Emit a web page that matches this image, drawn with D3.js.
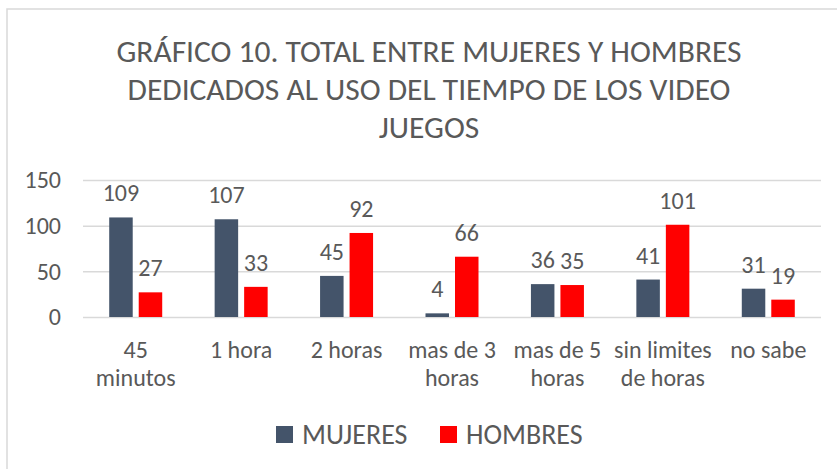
<!DOCTYPE html>
<html>
<head>
<meta charset="utf-8">
<script src="https://cdn.jsdelivr.net/npm/d3@7"></script>
<style>
  body { margin: 0; background: #fff; }
  text { font-family: Carlito, Calibri, Lato, sans-serif; fill: #595959; }
</style>
</head>
<body>
<div class="chart"></div>
<script>
// data
var categories = [['45', 'minutos'], ['1 hora'], ['2 horas'], ['mas de 3', 'horas'],
                  ['mas de 5', 'horas'], ['sin limites', 'de horas'], ['no sabe']]
var mujeres = [109, 107, 45, 4, 36, 41, 31]
var hombres = [27, 33, 92, 66, 35, 101, 19]
var yTicks = [0, 50, 100, 150]
var seriesNames = ['MUJERES', 'HOMBRES']
var colors = ['#44546A', '#FF0000']
var titleLines = ['GRÁFICO 10. TOTAL ENTRE MUJERES Y HOMBRES',
                  'DEDICADOS AL USO DEL TIEMPO DE LOS VIDEO', 'JUEGOS']

var W = 837, H = 469
var margin = {top: 180, right: 16, bottom: 152, left: 83}
var width = W - margin.left - margin.right
var height = H - margin.top - margin.bottom

var svg = d3.select('.chart').append('svg')
    .attr('width', W)
    .attr('height', H)

// outer frame (cut off on right/bottom like the screenshot)
svg.append('rect')
    .attr('x', 7).attr('y', 9)
    .attr('width', W + 20).attr('height', H + 20)
    .attr('fill', 'none')
    .attr('stroke', '#D9D9D9')
    .attr('stroke-width', 1.5)

// title
svg.append('g').selectAll('text')
    .data(titleLines)
    .enter().append('text')
        .attr('x', 429)
        .attr('y', function(d, i){ return 62 + i * 38 })
        .attr('text-anchor', 'middle')
        .style('font-size', '31.5px')
        .style('font-weight', 300)
        .text(function(d){ return d })

var g = svg.append('g')
    .attr('transform', 'translate(' + margin.left + ',' + margin.top + ')')

var idx = d3.range(categories.length)

var xScale = d3.scaleBand()
    .domain(idx)
    .range([0, width])

var yScale = d3.scaleLinear()
    .domain([0, 150])
    .range([height, 0])

// gridlines
var yAxis = d3.axisLeft(yScale)
    .tickValues(yTicks)
    .tickSize(-width)
    .tickPadding(22)

var yAx = g.append('g')
    .attr('class', 'y axis')
    .call(yAxis)
yAx.select('.domain').remove()
yAx.selectAll('line').attr('stroke', '#D9D9D9').attr('stroke-width', 1.5)
yAx.selectAll('text')
    .style('font-size', '24px')
    .attr('fill', '#595959')
    .attr('font-family', null)

// category labels
var xAxis = d3.axisBottom(xScale).tickSize(0).tickFormat('')
var xAx = g.append('g')
    .attr('class', 'x axis')
    .attr('transform', 'translate(0,' + height + ')')
    .call(xAxis)
xAx.select('.domain').remove()

xAx.selectAll('.tick').append('text')
    .attr('text-anchor', 'middle')
    .style('font-size', '24px')
    .selectAll('tspan')
    .data(function(d){ return categories[d] })
    .enter().append('tspan')
        .attr('x', 0)
        .attr('y', function(d, i){ return 41 + i * 28 })
        .text(function(d){ return d })

// bars
var barW = 23.5, gap = 6
var series = [mujeres, hombres]

series.forEach(function(vals, s){
    var off = s === 0 ? -gap / 2 - barW : gap / 2
    var cx = function(i){ return xScale(i) + xScale.bandwidth() / 2 + off }

    g.append('g').selectAll('rect')
        .data(vals)
        .enter().append('rect')
            .attr('x', function(d, i){ return cx(i) })
            .attr('y', function(d){ return yScale(d) })
            .attr('width', barW)
            .attr('height', function(d){ return height - yScale(d) })
            .style('fill', colors[s])

    g.append('g').selectAll('text')
        .data(vals)
        .enter().append('text')
            .attr('x', function(d, i){ return cx(i) + barW / 2 })
            .attr('y', function(d){ return yScale(d) - 16 })
            .attr('text-anchor', 'middle')
            .style('font-size', '24px')
            .text(function(d){ return d })
})

// legend
var legend = svg.append('g')
var legX = [276, 440]
seriesNames.forEach(function(name, s){
    legend.append('rect')
        .attr('x', legX[s]).attr('y', 426)
        .attr('width', 17).attr('height', 17)
        .style('fill', colors[s])
    legend.append('text')
        .attr('x', legX[s] + 26).attr('y', 444)
        .style('font-size', '28px')
        .text(name)
})
</script>
</body>
</html>
